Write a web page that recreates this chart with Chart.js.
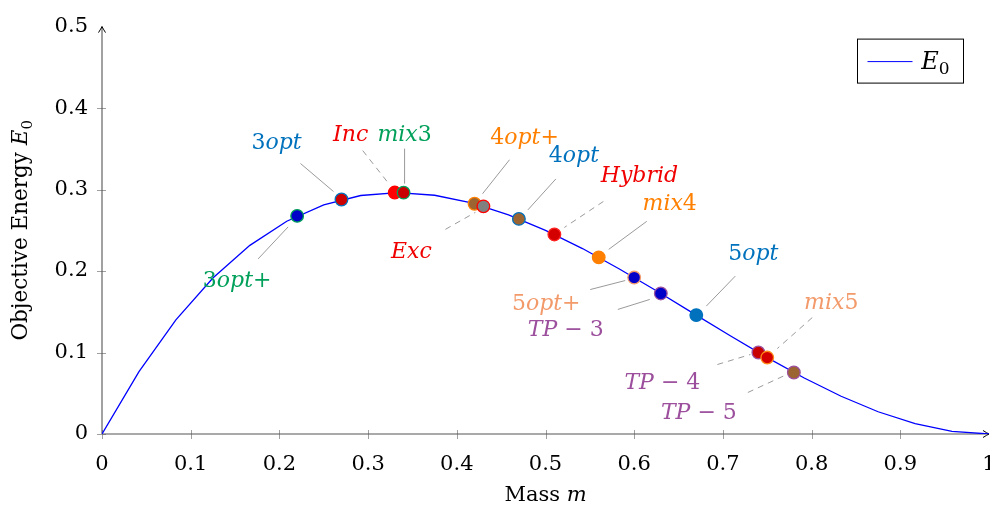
<!DOCTYPE html>
<html>
<head>
<meta charset="utf-8">
<script src="https://cdn.jsdelivr.net/npm/chart.js@4/dist/chart.umd.min.js"></script>
<style>
  html, body { margin: 0; padding: 0; background: #fff; }
  #wrap { width: 990px; height: 506px; }
</style>
</head>
<body>
<div id="wrap"><canvas id="chart" width="990" height="506"></canvas></div>
<script>
// E0 curve, 25 samples over the mass interval
const massGrid = [0, 0.0417, 0.0833, 0.125, 0.1667, 0.2083, 0.25, 0.2917, 0.3333, 0.375, 0.4167, 0.4583, 0.5,
  0.5417, 0.5833, 0.625, 0.6667, 0.7083, 0.75, 0.7917, 0.8333, 0.875, 0.9167, 0.9583, 1];
const energyCurve = [0, 0.0766, 0.1400, 0.1914, 0.2315, 0.2611, 0.2813, 0.2927, 0.2963, 0.2930, 0.2836, 0.2690, 0.25,
  0.2276, 0.2025, 0.1758, 0.1481, 0.1205, 0.0938, 0.0687, 0.0463, 0.0273, 0.0127, 0.0033, 0];

// solutions sitting on the curve (drawing order matters where they overlap)
const solverNames = ['3opt+', '3opt', 'Inc', 'mix3', '4opt+', 'Exc', '4opt', 'Hybrid', 'mix4', '5opt+', 'TP-3', '5opt', 'TP-4', 'mix5', 'TP-5'];
const solverMass = [0.22, 0.27, 0.33, 0.34, 0.42, 0.43, 0.47, 0.51, 0.56, 0.60, 0.63, 0.67, 0.74, 0.75, 0.78];
const solverEnergy = [0.2677, 0.2878, 0.2963, 0.2962, 0.2826, 0.2794, 0.2640, 0.2449, 0.2168, 0.192, 0.1725, 0.1459, 0.1000, 0.0938, 0.0755];

const xTicks = [0, 0.1, 0.2, 0.3, 0.4, 0.5, 0.6, 0.7, 0.8, 0.9, 1];
const yTicks = [0, 0.1, 0.2, 0.3, 0.4, 0.5];

const GREEN = '#00a05a', BLUE = '#0072bd', RED = '#f00000', ORANGE = '#ff8000';
const SALMON = '#f39a6b', PURPLE = '#9c4f9c', NAVY = '#0000c8', BROWN = '#9c6430';

const markerFill = [NAVY, '#cc0000', '#ff0000', '#c80000', BROWN, '#808080', BROWN, '#d40000', ORANGE, NAVY, NAVY, BLUE, '#c80000', '#d40000', BROWN];
const markerEdge = [GREEN, BLUE, '#ff0000', GREEN, ORANGE, '#ff0000', BLUE, '#ff2020', ORANGE, SALMON, PURPLE, BLUE, PURPLE, '#ff8c1a', PURPLE];
const labelColor = [GREEN, BLUE, RED, GREEN, ORANGE, RED, BLUE, RED, ORANGE, SALMON, PURPLE, BLUE, PURPLE, SALMON, PURPLE];

// label baseline centre and leader line, as pixel offsets from the marker
const labelAt = [[-60, 71], [-65, -51], [-44, -52], [1, -52], [50, -60], [-72, 52], [55, -57], [85, -52],
  [71, -47], [-88, 32], [-95, 43], [57, -55], [-96, 36], [64, -49], [-95, 47]];
const leader = [[-9, 11, -39, 43], [-41, -36, -8, -8], [-32, -42, -6, -9], [1, -44, 1, -9], [35, -44, 8, -10],
  [-38, 23, -8, 6], [37, -40, 9, -9], [49, -33, 10, -7], [48, -36, 10, -8], [-9, 3, -44, 12], [-11, 6, -43, 16],
  [39, -39, 10, -9], [-41, 12, -8, 2], [45, -40, 10, -9], [-46, 20, -7, 2]];
const dashedLeader = [false, false, true, false, false, true, false, true, false, false, false, false, true, true, true];

const FAMILY = '"DejaVu Serif", "Liberation Serif", serif';
const TICK_SIZE = 21;

function runFont(kind, size) {
  if (kind === 'i') return `italic ${size}px ${FAMILY}`;
  if (kind === 'sub') return `${Math.round(size * 0.7)}px ${FAMILY}`;
  return `${size}px ${FAMILY}`;
}

// draw a list of [text, kind] runs centred on cx
function drawRuns(ctx, runs, cx, baseY, size, color) {
  let total = 0;
  const widths = runs.map(([t, k]) => {
    ctx.font = runFont(k, size);
    const w = ctx.measureText(t).width;
    total += w;
    return w;
  });
  let x = cx - total / 2;
  ctx.fillStyle = color;
  ctx.textAlign = 'left';
  ctx.textBaseline = 'alphabetic';
  runs.forEach(([t, k], i) => {
    ctx.font = runFont(k, size);
    ctx.fillText(t, x, k === 'sub' ? baseY + size * 0.22 : baseY);
    x += widths[i];
  });
}

// letters in italic, digits and operators upright
function mathRuns(str) {
  return str.match(/[A-Za-z]+|[^A-Za-z]+/g).map(s =>
    /[A-Za-z]/.test(s) ? [s, 'i'] : [s.replace('-', ' \u2212 '), 'n']);
}

const axesPlugin = {
  id: 'axes',
  beforeDatasetsDraw(chart) {
    const { ctx, chartArea: a, scales: { x, y } } = chart;
    ctx.save();
    ctx.strokeStyle = '#a0a0a0';
    ctx.lineWidth = 1;
    ctx.beginPath();
    x.ticks.forEach(t => {
      if (t.value >= 1) return;
      const px = Math.round(x.getPixelForValue(t.value)) + 0.5;
      ctx.moveTo(px, a.bottom - 4);
      ctx.lineTo(px, a.bottom + 5);
    });
    y.ticks.forEach(t => {
      if (t.value >= 0.5) return;
      const py = Math.round(y.getPixelForValue(t.value)) + 0.5;
      ctx.moveTo(a.left - 5, py);
      ctx.lineTo(a.left + 4, py);
    });
    ctx.stroke();

    ctx.strokeStyle = '#555';
    ctx.lineWidth = 1.1;
    ctx.beginPath();
    ctx.moveTo(a.left, a.bottom);
    ctx.lineTo(a.right, a.bottom);
    ctx.moveTo(a.left, a.bottom);
    ctx.lineTo(a.left, a.top);
    ctx.stroke();

    // arrow heads
    ctx.strokeStyle = '#000';
    ctx.lineWidth = 1;
    ctx.beginPath();
    ctx.moveTo(a.right - 6, a.bottom - 3.5);
    ctx.quadraticCurveTo(a.right - 2, a.bottom - 1, a.right, a.bottom);
    ctx.quadraticCurveTo(a.right - 2, a.bottom + 1, a.right - 6, a.bottom + 3.5);
    ctx.moveTo(a.left - 3.5, a.top + 6);
    ctx.quadraticCurveTo(a.left - 1, a.top + 2, a.left, a.top);
    ctx.quadraticCurveTo(a.left + 1, a.top + 2, a.left + 3.5, a.top + 6);
    ctx.stroke();

    // axis titles
    drawRuns(ctx, [['Mass ', 'n'], ['m', 'i']], (a.left + a.right) / 2, a.bottom + 67, 21, '#000');
    ctx.translate(27, (a.top + a.bottom) / 2);
    ctx.rotate(-Math.PI / 2);
    drawRuns(ctx, [['Objective Energy ', 'n'], ['E', 'i'], ['0', 'sub']], 0, 0, 21.5, '#000');
    ctx.restore();
  }
};

const labelPlugin = {
  id: 'solverLabels',
  afterDatasetsDraw(chart) {
    const { ctx, scales: { x, y } } = chart;
    ctx.save();
    solverNames.forEach((name, i) => {
      const px = x.getPixelForValue(solverMass[i]);
      const py = y.getPixelForValue(solverEnergy[i]);
      const [x1, y1, x2, y2] = leader[i];
      ctx.strokeStyle = '#9a9a9a';
      ctx.lineWidth = 1;
      ctx.setLineDash(dashedLeader[i] ? [6, 5] : []);
      ctx.beginPath();
      ctx.moveTo(px + x1, py + y1);
      ctx.lineTo(px + x2, py + y2);
      ctx.stroke();
      ctx.setLineDash([]);
      drawRuns(ctx, mathRuns(name), px + labelAt[i][0], py + labelAt[i][1], 22, labelColor[i]);
    });
    ctx.restore();
  },
  afterDraw(chart) {
    const { ctx, chartArea: a } = chart;
    const left = a.right - 131.5, top = a.top + 12.5;
    ctx.save();
    ctx.fillStyle = '#fff';
    ctx.fillRect(left, top, 106, 44);
    ctx.strokeStyle = '#000';
    ctx.lineWidth = 1;
    ctx.strokeRect(left, top, 106, 44);
    ctx.strokeStyle = '#0000ff';
    ctx.beginPath();
    ctx.moveTo(left + 10, top + 22.5);
    ctx.lineTo(left + 55, top + 22.5);
    ctx.stroke();
    drawRuns(ctx, [['E', 'i'], ['0', 'sub']], left + 78, top + 30, 24, '#000');
    ctx.restore();
  }
};

const tickFont = { family: FAMILY, size: TICK_SIZE };

new Chart(document.getElementById('chart'), {
  type: 'scatter',
  data: {
    datasets: [
      {
        label: 'E0',
        data: massGrid.map((m, i) => ({ x: m, y: energyCurve[i] })),
        showLine: true,
        borderColor: '#0000ff',
        borderWidth: 1.3,
        pointRadius: 0,
        tension: 0,
        order: 2
      },
      {
        label: 'solutions',
        data: solverMass.map((m, i) => ({ x: m, y: solverEnergy[i] })),
        pointRadius: 6.3,
        pointBorderWidth: 1.3,
        backgroundColor: markerFill,
        borderColor: markerEdge,
        order: 1
      }
    ]
  },
  options: {
    responsive: false,
    animation: false,
    devicePixelRatio: 1,
    layout: { autoPadding: false, padding: { top: 18, right: 1, left: 0, bottom: 0 } },
    plugins: { legend: { display: false }, tooltip: { enabled: false } },
    scales: {
      x: {
        type: 'linear',
        min: 0,
        max: 1,
        afterBuildTicks: s => { s.ticks = xTicks.map(v => ({ value: v })); },
        afterFit: s => { s.height = 72; s.paddingLeft = 0; s.paddingRight = 0; },
        grid: { display: false, drawTicks: false },
        border: { display: false },
        ticks: { font: tickFont, color: '#000', padding: 18, maxRotation: 0, autoSkip: false, callback: v => String(v) }
      },
      y: {
        type: 'linear',
        min: 0,
        max: 0.5,
        afterBuildTicks: s => { s.ticks = yTicks.map(v => ({ value: v })); },
        afterFit: s => { s.width = 102; },
        grid: { display: false, drawTicks: false },
        border: { display: false },
        ticks: { font: tickFont, color: '#000', padding: 14, autoSkip: false, callback: v => String(v) }
      }
    }
  },
  plugins: [axesPlugin, labelPlugin]
});
</script>
</body>
</html>
